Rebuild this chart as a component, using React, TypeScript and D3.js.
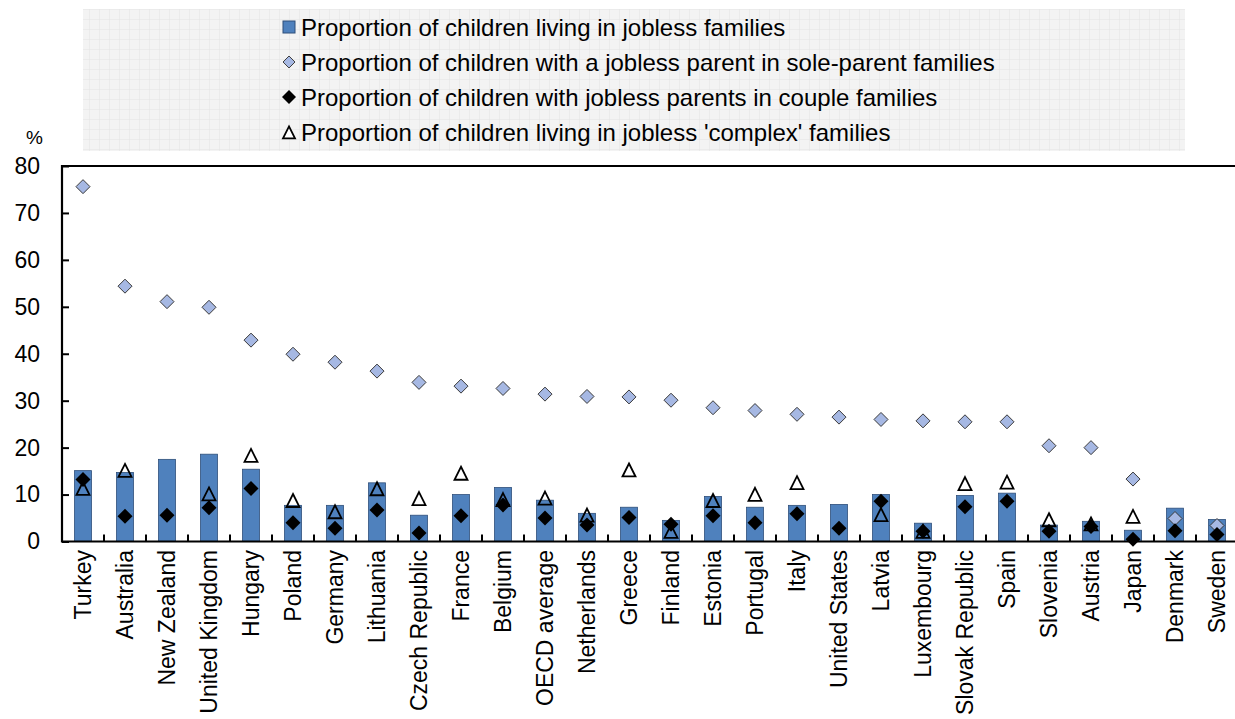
import React, { useEffect, useRef } from 'react';
import * as d3 from 'd3';

const categories = [
  'Turkey', 'Australia', 'New Zealand', 'United Kingdom', 'Hungary', 'Poland', 'Germany',
  'Lithuania', 'Czech Republic', 'France', 'Belgium', 'OECD average', 'Netherlands', 'Greece',
  'Finland', 'Estonia', 'Portugal', 'Italy', 'United States', 'Latvia', 'Luxembourg',
  'Slovak Republic', 'Spain', 'Slovenia', 'Austria', 'Japan', 'Denmark', 'Sweden',
];

const jobless = [15.1, 14.7, 17.5, 18.6, 15.4, 7.7, 7.7, 12.5, 5.6, 10.0, 11.5, 8.8, 6.0, 7.3, 4.5, 9.6, 7.3, 7.7, 7.9, 10.0, 3.9, 9.8, 10.3, 3.5, 4.3, 2.4, 7.1, 4.7];
const soleParent = [75.6, 54.4, 51.1, 49.9, 42.9, 39.9, 38.2, 36.3, 33.9, 33.1, 32.6, 31.4, 30.9, 30.8, 30.1, 28.5, 27.9, 27.1, 26.5, 26.0, 25.7, 25.5, 25.5, 20.4, 20.0, 13.3, 4.9, 3.4];
const couple = [13.2, 5.4, 5.6, 7.2, 11.3, 4.0, 2.8, 6.7, 1.8, 5.5, 7.8, 5.0, 3.5, 5.1, 3.7, 5.5, 4.0, 5.9, 2.8, 8.6, 2.2, 7.4, 8.6, 2.2, 3.2, 0.5, 2.3, 1.5];
const complexFam: (number | null)[] = [11.2, 15.0, null, 10.0, 18.2, 8.6, 6.2, 11.1, 9.0, 14.4, 8.8, 9.1, 5.5, 15.1, 2.0, 8.6, 9.9, 12.4, null, 5.6, 2.0, 12.2, 12.5, 4.5, 3.6, 5.2, null, null];

const yTicks = [0, 10, 20, 30, 40, 50, 60, 70, 80];

const legendLabels = [
  'Proportion of children living in jobless families',
  'Proportion of children with a jobless parent in sole-parent families',
  'Proportion of children with jobless parents in couple families',
  "Proportion of children living in jobless 'complex' families",
];

const BAR = '#4f81bd';
const SOLE = '#a6b8e3';
const FONT = '"Liberation Sans", Arial, sans-serif';

const W = 1235;
const H = 719;

const App = () => {
  const svgRef = useRef<SVGSVGElement>(null);

  useEffect(() => {
    if (!svgRef.current) return;
    const svg = d3.select(svgRef.current);
    svg.selectAll('*').remove();

    const left = 62;
    const band = 42;
    const x = d3.scaleBand<string>()
      .domain(categories)
      .range([left, left + band * categories.length])
      .padding(0);
    const y = d3.scaleLinear().domain([0, 80]).range([541.5, 166]);
    const cx = (i: number) => (x(categories[i]) as number) + x.bandwidth() / 2;

    // legend background with faint grid
    const defs = svg.append('defs');
    const pat = defs.append('pattern')
      .attr('id', 'grid')
      .attr('width', 10)
      .attr('height', 10)
      .attr('patternUnits', 'userSpaceOnUse');
    pat.append('rect').attr('width', 10).attr('height', 10).attr('fill', '#f3f3f3');
    pat.append('path').attr('d', 'M10 0V10M0 10H10').attr('stroke', '#e4e4e4').attr('stroke-width', 1);

    svg.append('rect')
      .attr('x', 83).attr('y', 9)
      .attr('width', 1185 - 83).attr('height', 151 - 9)
      .attr('fill', 'url(#grid)');

    const tri = (s: number) => `M0,${-s * 0.55}L${s * 0.5},${s * 0.45}L${-s * 0.5},${s * 0.45}Z`;

    // legend
    const legendY = [27, 62, 97, 132];
    const lg = svg.append('g');
    legendLabels.forEach((label, i) => {
      const ly = legendY[i];
      const mx = 289;
      if (i === 0) {
        lg.append('rect').attr('x', mx - 6).attr('y', ly - 6).attr('width', 12).attr('height', 12)
          .attr('fill', BAR).attr('stroke', '#2f4f7a').attr('stroke-width', 1);
      } else if (i === 1) {
        lg.append('path').attr('d', 'M0,-6L6,0L0,6L-6,0Z').attr('transform', `translate(${mx},${ly})`)
          .attr('fill', SOLE).attr('stroke', '#404040').attr('stroke-width', 1);
      } else if (i === 2) {
        lg.append('path').attr('d', 'M0,-7L7,0L0,7L-7,0Z').attr('transform', `translate(${mx},${ly})`)
          .attr('fill', '#000');
      } else {
        lg.append('path').attr('d', tri(12)).attr('transform', `translate(${mx},${ly + 1})`)
          .attr('fill', '#fff').attr('stroke', '#000').attr('stroke-width', 1.8);
      }
      lg.append('text')
        .attr('x', 301).attr('y', ly)
        .attr('dominant-baseline', 'central')
        .attr('font-family', FONT)
        .attr('font-size', '24px')
        .attr('fill', '#000')
        .text(label);
    });

    // y axis
    const yAxis = d3.axisLeft(y).tickValues(yTicks).tickSizeInner(-7).tickSizeOuter(0).tickPadding(22);
    const ga = svg.append('g').attr('transform', `translate(${left},0)`).call(yAxis);
    ga.select('.domain').remove();
    ga.selectAll('line').attr('stroke', '#000').attr('stroke-width', 2);
    ga.selectAll('text').attr('font-family', FONT).attr('font-size', '23px').attr('fill', '#000');

    svg.append('text')
      .attr('x', 43).attr('y', 137)
      .attr('text-anchor', 'end')
      .attr('dominant-baseline', 'central')
      .attr('font-family', FONT)
      .attr('font-size', '19px')
      .text('%');

    // bars
    const bw = 17;
    svg.append('g').selectAll('rect')
      .data(jobless)
      .enter()
      .append('rect')
      .attr('x', (_, i) => cx(i) - bw / 2)
      .attr('y', d => y(d))
      .attr('width', bw)
      .attr('height', d => y(0) - y(d))
      .attr('fill', BAR)
      .attr('stroke', '#2f4f7a')
      .attr('stroke-width', 0.8);

    // sole-parent diamonds
    svg.append('g').selectAll('path')
      .data(soleParent)
      .enter()
      .append('path')
      .attr('d', 'M0,-7L7,0L0,7L-7,0Z')
      .attr('transform', (d, i) => `translate(${cx(i)},${y(d)})`)
      .attr('fill', SOLE)
      .attr('stroke', '#3a3a3a')
      .attr('stroke-width', 1);

    // couple diamonds
    svg.append('g').selectAll('path')
      .data(couple)
      .enter()
      .append('path')
      .attr('d', 'M0,-7.5L7.5,0L0,7.5L-7.5,0Z')
      .attr('transform', (d, i) => `translate(${cx(i)},${y(d)})`)
      .attr('fill', '#000');

    // complex triangles
    svg.append('g').selectAll('path')
      .data(complexFam.map((v, i) => ({ v, i })).filter(d => d.v !== null))
      .enter()
      .append('path')
      .attr('d', tri(13))
      .attr('transform', d => `translate(${cx(d.i)},${y(d.v as number)})`)
      .attr('fill', 'none')
      .attr('stroke', '#000')
      .attr('stroke-width', 1.8);

    // frame
    const right = W;
    svg.append('path')
      .attr('d', `M${right},${y(80)}H${left}V${y(0)}H${right}`)
      .attr('fill', 'none')
      .attr('stroke', '#000')
      .attr('stroke-width', 2.2);

    // x ticks between categories
    svg.append('g').selectAll('line')
      .data(categories.slice(1))
      .enter()
      .append('line')
      .attr('x1', d => x(d) as number)
      .attr('x2', d => x(d) as number)
      .attr('y1', y(0))
      .attr('y2', y(0) - 7)
      .attr('stroke', '#000')
      .attr('stroke-width', 2);

    // category labels
    svg.append('g').selectAll('text')
      .data(categories)
      .enter()
      .append('text')
      .attr('transform', (_, i) => `translate(${cx(i)},550) rotate(-90)`)
      .attr('text-anchor', 'end')
      .attr('dominant-baseline', 'central')
      .attr('font-family', FONT)
      .attr('font-size', '23px')
      .attr('fill', '#000')
      .text(d => d);
  }, []);

  return (
    <div style={{ position: 'absolute', left: 0, top: 0, width: W, height: H, background: '#fff' }}>
      <svg ref={svgRef} width={W} height={H} viewBox={`0 0 ${W} ${H}`} />
    </div>
  );
};

export default App;
